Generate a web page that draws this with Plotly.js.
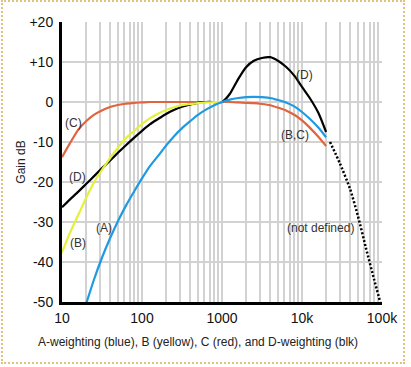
<!DOCTYPE html>
<html>
<head>
<meta charset="utf-8">
<script src="https://cdn.plot.ly/plotly-3.0.1.min.js"></script>
<style>
  html, body { margin: 0; padding: 0; background: #ffffff; }
  #wrap { position: relative; width: 411px; height: 367px; overflow: hidden; }
  #chart { position: absolute; left: 0; top: 0; width: 411px; height: 367px; }
  #frame { position: absolute; left: 1px; top: 0px; width: 404px; height: 364px;
           box-sizing: border-box; border: 2px dotted #e2c27c; pointer-events: none; }
</style>
</head>
<body>
<div id="wrap">
  <div id="chart"></div>
  <div id="frame"></div>
</div>
<script>
// ---- Data ----
const freqA = [20, 25, 31.5, 40, 50, 63, 80, 100, 125, 160, 200, 250, 315, 400, 500, 630, 800, 1000, 1250, 1600, 2000, 2500, 3150, 4000, 5000, 6300, 8000, 10000, 12500, 16000, 20000];
const gainA = [-50.5, -44.5, -39.0, -34.0, -29.8, -25.9, -22.3, -19.1, -16.1, -13.4, -10.9, -8.6, -6.6, -4.8, -3.2, -1.9, -0.8, 0, 0.6, 1.0, 1.2, 1.3, 1.2, 1.0, 0.5, -0.1, -1.1, -2.5, -4.2, -6.4, -8.8];

const freqB = [10, 12.5, 16, 20, 25, 31.5, 40, 50, 63, 80, 100, 125, 160, 200, 250, 315, 400, 500, 630, 800, 1000];
const gainB = [-37.6, -32.8, -28.2, -24.0, -20.2, -17.0, -14.0, -11.4, -9.0, -7.2, -5.5, -4.1, -2.9, -2.0, -1.3, -0.8, -0.5, -0.3, -0.1, 0, 0];

const freqC = [10, 12.5, 16, 20, 25, 31.5, 40, 50, 63, 80, 100, 125, 160, 200, 250, 315, 400, 500, 630, 800, 1000, 1250, 1600, 2000, 2500, 3150, 4000, 5000, 6300, 8000, 10000, 12500, 16000, 20000];
const gainC = [-13.8, -10.4, -6.9, -4.8, -3.2, -2.1, -1.25, -0.75, -0.4, -0.2, -0.1, 0, 0, 0, 0, 0, 0, 0, 0, 0, 0, 0, -0.1, -0.2, -0.3, -0.5, -0.8, -1.4, -2.1, -3.2, -4.6, -6.4, -8.7, -11.0];

const freqD = [10, 12.5, 16, 20, 25, 31.5, 40, 50, 63, 80, 100, 125, 160, 200, 250, 315, 400, 500, 630, 800, 1000, 1250, 1600, 2000, 2500, 3150, 4000, 5000, 6300, 8000, 10000, 12500, 16000, 20000];
const gainD = [-26.3, -24.4, -22.4, -20.5, -18.6, -16.6, -14.6, -12.7, -10.8, -8.9, -7.2, -5.6, -4.2, -3.0, -2.0, -1.2, -0.6, -0.2, 0, 0, 0, 2.0, 5.8, 8.7, 10.3, 11.0, 11.2, 10.3, 8.8, 6.6, 3.8, 1.0, -2.7, -7.5];

const freqN = [22400, 30000, 40000, 50000, 63000, 80000, 95000];
const gainN = [-10, -15.5, -21.8, -28.5, -36.5, -44.5, -50];

const xTickVals = [10, 100, 1000, 10000, 100000];
const xTickText = ['10', '100', '1000', '10k', '100k'];
const yTickVals = [20, 10, 0, -10, -20, -30, -40, -50];
const yTickText = ['+20', '+10', '0', '-10', '-20', '-30', '-40', '-50'];

const labelText = ['(C)', '(D)', '(B)', '(A)', '(D)', '(B,C)', '(not defined)'];
const labelFreq = [13.9, 15.8, 15.7, 33.8, 10800, 8100, 16900];
const labelGain = [-5.3, -18.8, -35.3, -31.5, 6.7, -8.3, -31.45];

const xTitle = 'A-weighting (blue), B (yellow), C (red), and D-weighting (blk)';
const yTitle = 'Gain dB';

// ---- Build chart ----
const FONT = 'Liberation Sans, Arial, Helvetica, sans-serif';
const minorVals = [];
for (let d = 10; d < 100000; d *= 10) {
  for (let m = 2; m <= 9; m++) minorVals.push(m * d);
}

const traces = [
  { x: freqC, y: gainC, mode: 'lines', name: 'C', line: { color: '#e0643e', width: 2.2, shape: 'spline', smoothing: 0.6 } },
  { x: freqD, y: gainD, mode: 'lines', name: 'D', line: { color: '#000000', width: 2.2, shape: 'spline', smoothing: 0.6 } },
  { x: freqB, y: gainB, mode: 'lines', name: 'B', line: { color: '#e4f03a', width: 2.2, shape: 'spline', smoothing: 0.6 } },
  { x: freqA, y: gainA, mode: 'lines', name: 'A', line: { color: '#1e9ae2', width: 2.2, shape: 'spline', smoothing: 0.6 } },
  { x: freqN, y: gainN, mode: 'lines', name: 'not defined', line: { color: '#000000', width: 2.5, dash: '2px,2px', shape: 'spline', smoothing: 0.6 } }
];

const annotations = labelText.map((t, i) => ({
  x: Math.log10(labelFreq[i]), y: labelGain[i], xref: 'x', yref: 'y',
  text: t, showarrow: false, xanchor: 'center', yanchor: 'middle',
  font: { family: FONT, size: 12, color: '#333333' }
}));
annotations.push({
  x: (197.5 - 62) / 320, y: -0.144, xref: 'paper', yref: 'paper',
  text: xTitle, showarrow: false, xanchor: 'center', yanchor: 'middle',
  font: { family: FONT, size: 12, color: '#222222' }
});

const layout = {
  width: 411, height: 367,
  margin: { l: 62, r: 29, t: 22, b: 65, pad: 0 },
  paper_bgcolor: '#ffffff', plot_bgcolor: '#ffffff',
  showlegend: false,
  font: { family: FONT, color: '#111111' },
  xaxis: {
    type: 'log', range: [1, 5],
    tickmode: 'array', tickvals: xTickVals, ticktext: xTickText,
    tickfont: { family: FONT, size: 14, color: '#111111' },
    ticks: 'outside', ticklen: 1, tickcolor: 'rgba(0,0,0,0)',
    showgrid: true, gridcolor: '#d2d2d2', gridwidth: 2,
    minor: { tickmode: 'array', tickvals: minorVals, showgrid: true, gridcolor: '#d2d2d2', gridwidth: 2, ticks: '' },
    showline: true, linecolor: '#000000', linewidth: 3,
    zeroline: false, fixedrange: true
  },
  yaxis: {
    range: [-50, 20],
    tickmode: 'array', tickvals: yTickVals, ticktext: yTickText,
    tickfont: { family: FONT, size: 14, color: '#111111' },
    ticks: 'outside', ticklen: 3, tickcolor: 'rgba(0,0,0,0)',
    showgrid: true, gridcolor: '#d2d2d2', gridwidth: 2,
    showline: true, linecolor: '#000000', linewidth: 3,
    zeroline: false, fixedrange: true,
    title: { text: yTitle, font: { family: FONT, size: 12, color: '#222222' }, standoff: 2 }
  },
  annotations: annotations
};

Plotly.newPlot('chart', traces, layout, { displayModeBar: false, staticPlot: true });
</script>
</body>
</html>
